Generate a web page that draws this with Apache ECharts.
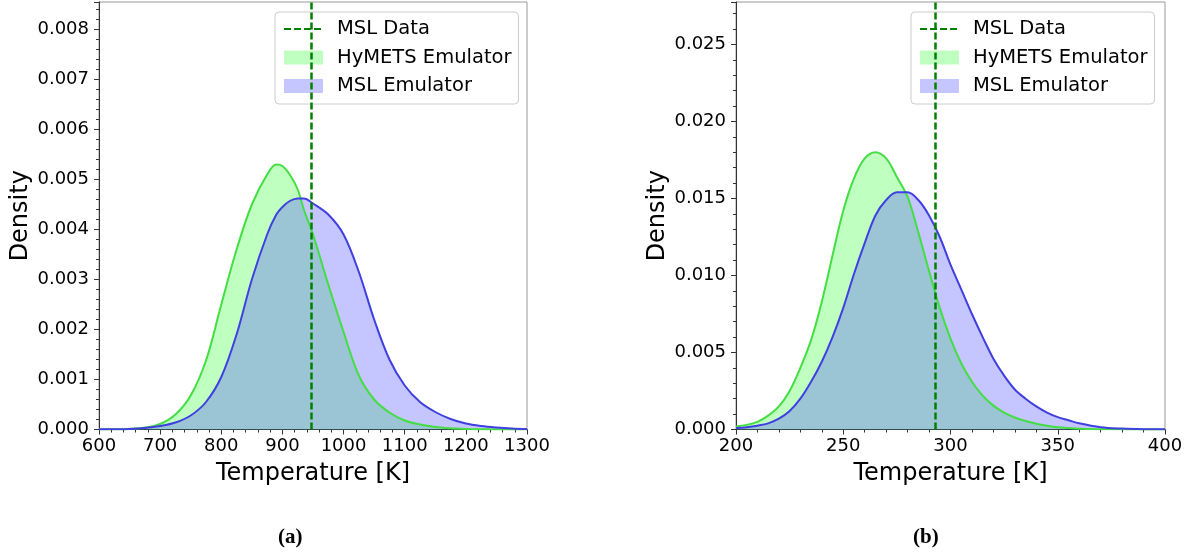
<!DOCTYPE html>
<html>
<head>
<meta charset="utf-8">
<script src="https://cdn.jsdelivr.net/npm/echarts@6/dist/echarts.min.js"></script>
<style>
  html, body { margin: 0; padding: 0; background: #fff; }
  #chart { width: 1191px; height: 554px; }
</style>
</head>
<body>
<div id="chart"></div>
<script>
// panel (a): temperature grid [K] and KDE densities
const tempA = [600, 625, 650, 675, 700, 725, 750, 775, 800, 825, 850, 875, 890, 900, 912, 925, 935, 950,
  975, 1000, 1025, 1050, 1075, 1100, 1125, 1150, 1175, 1200, 1225, 1250, 1275, 1300]
const hymetsA = [0.000002, 0.000005, 0.000012, 0.00004, 0.00011, 0.0003, 0.00068, 0.00138, 0.0025, 0.0036,
  0.0045, 0.0051, 0.0053, 0.00527, 0.0051, 0.0048, 0.0044, 0.0039, 0.0029, 0.00195, 0.00108, 0.0006,
  0.00034, 0.00018, 0.0001, 0.00005, 0.000025, 0.000012, 0.000005, 0.000002, 0.000001, 0]
const mslEmuA = [0.000003, 0.000006, 0.000012, 0.00003, 0.00007, 0.00014, 0.00028, 0.00055, 0.00105, 0.0019,
  0.003, 0.0039, 0.0043, 0.00445, 0.00457, 0.00462, 0.00462, 0.00452, 0.0043, 0.0039, 0.00315, 0.0022,
  0.0014, 0.00088, 0.00055, 0.00035, 0.00021, 0.00012, 0.00007, 0.00004, 0.00002, 0.00001]
const mslDataA = 947

// panel (b)
const tempB = [200, 205, 210, 215, 220, 225, 230, 235, 240, 245, 250, 255, 260, 265, 270, 275, 280, 285,
  290, 295, 300, 305, 310, 315, 320, 325, 330, 335, 340, 345, 350, 355, 360, 370, 380, 390, 400]
const hymetsB = [0.0002, 0.0003, 0.0005, 0.0009, 0.0015, 0.0025, 0.004, 0.0058, 0.0083, 0.0113, 0.0142,
  0.0163, 0.0176, 0.018, 0.0176, 0.0164, 0.0151, 0.0128, 0.0103, 0.0079, 0.0059, 0.0043, 0.0031, 0.0022,
  0.00155, 0.0011, 0.00078, 0.00055, 0.00038, 0.00025, 0.00015, 0.0001, 0.00005, 0.00002, 0.00001, 0, 0]
const mslEmuB = [0.0001, 0.00015, 0.00025, 0.0004, 0.0007, 0.0012, 0.002, 0.0031, 0.0044, 0.006, 0.0079,
  0.0101, 0.0121, 0.0139, 0.0149, 0.0154, 0.0154, 0.0149, 0.0139, 0.0125, 0.0107, 0.0091, 0.0075, 0.006,
  0.0046, 0.0035, 0.0026, 0.002, 0.0015, 0.0011, 0.0008, 0.0006, 0.0004, 0.00015, 0.00006, 0.00002, 0.00001]
const mslDataB = 293

const FONT = 'DejaVu Sans'
const greenLine = '#44dd44'
const greenFill = 'rgba(0,255,0,0.25)'
const blueLine = '#4040e0'
const blueFill = 'rgba(90,90,255,0.35)'
const dataGreen = '#008000'

const pairs = (xs, ys) => xs.map((x, i) => [x, ys[i]])

const makeX = (idx, min, max, interval) => ({
  type: 'value', gridIndex: idx, min, max, interval,
  name: 'Temperature [K]', nameLocation: 'middle', nameGap: 32,
  nameTextStyle: { fontSize: 24, color: '#000', fontFamily: FONT },
  axisLine: { show: true, lineStyle: { color: '#333', width: 1 } },
  axisTick: { show: true, length: 5, lineStyle: { color: '#333' } },
  minorTick: { show: true, splitNumber: 5, length: 3, lineStyle: { color: '#333' } },
  axisLabel: { fontSize: 18, color: '#000', margin: 8, fontFamily: FONT, formatter: (v) => String(v) },
  splitLine: { show: false }
})

const makeY = (idx, max, interval) => ({
  type: 'value', gridIndex: idx, min: 0, max, interval,
  name: 'Density', nameLocation: 'middle', nameGap: 66,
  nameTextStyle: { fontSize: 24, color: '#000', fontFamily: FONT },
  axisLine: { show: true, lineStyle: { color: '#333', width: 1 } },
  axisTick: { show: true, length: 5, lineStyle: { color: '#333' } },
  minorTick: { show: true, splitNumber: 5, length: 3, lineStyle: { color: '#333' } },
  axisLabel: { fontSize: 18, color: '#000', margin: 10, fontFamily: FONT, showMaxLabel: false,
    formatter: (v) => v.toFixed(3) },
  splitLine: { show: false }
})

const makeSeries = (idx, temps, hymets, mslEmu, mslData) => [
  {
    name: 'MSL Data', type: 'line', xAxisIndex: idx, yAxisIndex: idx, data: [], symbol: 'none', z: 5,
    lineStyle: { color: dataGreen, width: 2.5, type: [7, 3] },
    itemStyle: { color: dataGreen },
    markLine: {
      silent: true, symbol: ['none', 'none'], label: { show: false }, animation: false,
      lineStyle: { color: dataGreen, width: 2.5, type: [7, 3] },
      data: [{ xAxis: mslData }]
    }
  },
  {
    name: 'HyMETS Emulator', type: 'line', xAxisIndex: idx, yAxisIndex: idx,
    data: pairs(temps, hymets), symbol: 'none', smooth: 0.35,
    lineStyle: { color: greenLine, width: 2 },
    itemStyle: { color: greenFill },
    areaStyle: { color: greenFill, opacity: 1 }
  },
  {
    name: 'MSL Emulator', type: 'line', xAxisIndex: idx, yAxisIndex: idx,
    data: pairs(temps, mslEmu), symbol: 'none', smooth: 0.35,
    lineStyle: { color: blueLine, width: 2 },
    itemStyle: { color: blueFill },
    areaStyle: { color: blueFill, opacity: 1 }
  }
]

const makeLegend = (left) => ({
  orient: 'vertical', left, top: 12,
  padding: [7, 7, 8, 8], itemGap: 8.5, itemWidth: 39, itemHeight: 14,
  backgroundColor: 'rgba(255,255,255,0.85)', borderColor: '#cccccc', borderWidth: 1, borderRadius: 4,
  textStyle: { fontSize: 19.5, color: '#000', fontFamily: FONT, padding: [0, 0, 0, 9] },
  selectedMode: false,
  data: [
    { name: 'MSL Data', itemStyle: { color: 'rgba(0,0,0,0)', borderColor: 'rgba(0,0,0,0)', opacity: 0 } },
    { name: 'HyMETS Emulator', icon: 'rect', itemStyle: { color: greenFill, borderWidth: 0 } },
    { name: 'MSL Emulator', icon: 'rect', itemStyle: { color: blueFill, borderWidth: 0 } }
  ]
})

const capStyle = { fontFamily: 'Liberation Serif', fontWeight: 'bold', fontSize: 21, color: '#000' }

const chart = echarts.init(document.getElementById('chart'), null, { renderer: 'canvas' })
chart.setOption({
  animation: false,
  backgroundColor: '#fff',
  textStyle: { fontFamily: FONT },
  title: [
    { text: '(a)', left: 273, top: 522, textStyle: capStyle },
    { text: '(b)', left: 908, top: 522, textStyle: capStyle }
  ],
  grid: [
    { left: 99, width: 428, top: 2, height: 427.5, show: true, borderColor: '#999', borderWidth: 1, backgroundColor: 'transparent' },
    { left: 736, width: 429, top: 2, height: 427.5, show: true, borderColor: '#999', borderWidth: 1, backgroundColor: 'transparent' }
  ],
  xAxis: [makeX(0, 600, 1300, 100), makeX(1, 200, 400, 50)],
  yAxis: [makeY(0, 0.00855, 0.001), makeY(1, 0.02776, 0.005)],
  legend: [makeLegend(275), makeLegend(911)],
  series: [
    ...makeSeries(0, tempA, hymetsA, mslEmuA, mslDataA),
    ...makeSeries(1, tempB, hymetsB, mslEmuB, mslDataB)
  ]
})
</script>
</body>
</html>
